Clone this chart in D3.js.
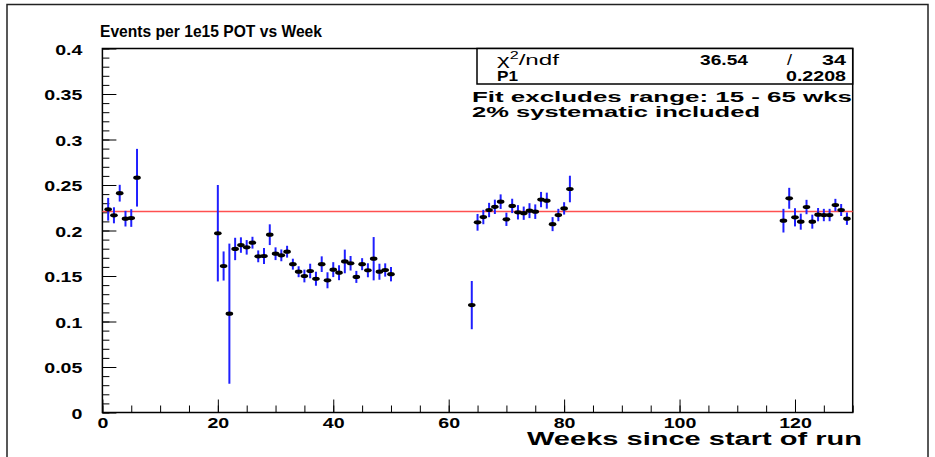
<!DOCTYPE html>
<html>
<head>
<meta charset="utf-8">
<script src="https://cdn.jsdelivr.net/npm/d3@7"></script>
<style>
  body { margin: 0; background: #fff; }
  text { font-family: "Liberation Sans", Arial, Helvetica, sans-serif; }
</style>
</head>
<body>
<svg id="chart" width="935" height="457"></svg>
<script>

// weeks since start of run
var weeks = [1, 2, 3, 4, 5, 6,
  20, 21, 22, 23, 24, 25, 26, 27, 28, 29, 30, 31, 32, 33, 34, 35, 36, 37, 38, 39, 40,
  41, 42, 43, 44, 45, 46, 47, 48, 49, 50,
  64, 65, 66, 67, 68, 69, 70, 71, 72, 73, 74, 75, 76, 77, 78, 79, 80, 81,
  118, 119, 120, 121, 122, 123, 124, 125, 126, 127, 128, 129];

// events per 1e15 POT
var rate = [0.2233, 0.2167, 0.2410, 0.2130, 0.2137, 0.2580,
  0.1970, 0.1610, 0.1086, 0.1797, 0.1840, 0.1815, 0.1866, 0.1716, 0.1720, 0.1954, 0.1745,
  0.1727, 0.1767, 0.1630, 0.1547, 0.1500, 0.1555, 0.1470, 0.1630, 0.1453, 0.1570,
  0.1536, 0.1660, 0.1640, 0.1490, 0.1630, 0.1563, 0.1690, 0.1547, 0.1566, 0.1520,
  0.1180, 0.2090, 0.2148, 0.2225, 0.2260, 0.2317, 0.2123, 0.2270, 0.2200, 0.2190,
  0.2218, 0.2207, 0.2340, 0.2328, 0.2070, 0.2170, 0.2243, 0.2456,
  0.2108, 0.2354, 0.2145, 0.2097, 0.2258, 0.2097, 0.2174, 0.2170, 0.2170, 0.2280,
  0.2225, 0.2130];

// error (half length of the bar)
var err = [0.0125, 0.0088, 0.0092, 0.0086, 0.0097, 0.0317,
  0.0530, 0.0160, 0.0770, 0.0123, 0.0085, 0.0080, 0.0065, 0.0065, 0.0088, 0.0114, 0.0070,
  0.0065, 0.0065, 0.0060, 0.0060, 0.0070, 0.0080, 0.0077, 0.0086, 0.0088, 0.0082,
  0.0082, 0.0130, 0.0080, 0.0066, 0.0066, 0.0077, 0.0238, 0.0088, 0.0073, 0.0079,
  0.0265, 0.0092, 0.0079, 0.0079, 0.0079, 0.0080, 0.0073, 0.0079, 0.0079, 0.0073,
  0.0082, 0.0080, 0.0084, 0.0088, 0.0077, 0.0068, 0.0068, 0.0146,
  0.0130, 0.0115, 0.0100, 0.0088, 0.0079, 0.0077, 0.0073, 0.0068, 0.0068, 0.0068,
  0.0066, 0.0068];

// fit result
var fitP1 = 0.2208;
var fitChi2 = "36.54";
var fitNdf = "34";
var fitP1Label = "0.2208";

// axis ticks
var xTicks = [0, 20, 40, 60, 80, 100, 120];
var xLabels = ["0", "20", "40", "60", "80", "100", "120"];
var yTicks = [0, 0.05, 0.1, 0.15, 0.2, 0.25, 0.3, 0.35, 0.4];
var yLabels = ["0", "0.05", "0.1", "0.15", "0.2", "0.25", "0.3", "0.35", "0.4"];

var titleText = "Events per 1e15 POT vs Week";
var xTitleText = "Weeks since start of run";
var noteLines = ["Fit excludes range: 15 - 65 wks", "2% systematic included"];


var svg = d3.select("#chart");

var padL = 102.4, padR = 852.7, padT = 48.5, padB = 412.5;

var x = d3.scaleLinear().domain([0, 130]).range([padL, padR]);
var y = d3.scaleLinear().domain([0, 0.4]).range([padB, padT]);

// outer pad border
svg.append("rect")
  .attr("x", 7).attr("y", 4.5)
  .attr("width", 921).attr("height", 470)
  .attr("fill", "none")
  .attr("stroke", "#222")
  .attr("stroke-width", 1.5);

// helper for stretched text
function addText(px, py, str, size, weight, width) {
  var t = svg.append("text")
    .attr("x", px).attr("y", py)
    .attr("font-size", size)
    .attr("font-weight", weight)
    .attr("fill", "#000")
    .text(str);
  if (width) {
    t.attr("textLength", width).attr("lengthAdjust", "spacingAndGlyphs");
  }
  return t;
}

// minor ticks
var yMinor = d3.axisLeft(y).tickValues(d3.range(0, 0.401, 0.01)).tickSize(-7).tickSizeOuter(0).tickFormat("");
svg.append("g").attr("transform", "translate(" + padL + ",0)").call(yMinor)
  .call(function (g) { g.select(".domain").remove(); })
  .selectAll("line").attr("stroke", "#000").attr("stroke-width", 1);

var xMinor = d3.axisBottom(x).tickValues(d3.range(0, 131, 5)).tickSize(-7).tickSizeOuter(0).tickFormat("");
svg.append("g").attr("transform", "translate(0," + padB + ")").call(xMinor)
  .call(function (g) { g.select(".domain").remove(); })
  .selectAll("line").attr("stroke", "#000").attr("stroke-width", 1);

// major ticks and labels
var sx = 1.4;
var yAxis = d3.axisLeft(y).tickValues(yTicks).tickSize(-14).tickSizeOuter(0)
  .tickPadding(20).tickFormat(function (d, i) { return yLabels[i]; });
var gy = svg.append("g").attr("transform", "translate(" + padL + ",0)").call(yAxis);
gy.select(".domain").remove();
gy.selectAll("line").attr("stroke", "#000").attr("stroke-width", 1);
gy.selectAll("text")
  .attr("x", -20 / sx)
  .attr("dy", "0.4em")
  .attr("transform", "scale(" + sx + ",1)")
  .attr("font-size", 14)
  .attr("font-weight", "bold")
  .attr("font-family", "Liberation Sans, Arial, sans-serif")
  .attr("fill", "#000");

var xAxis = d3.axisBottom(x).tickValues(xTicks).tickSize(-13).tickSizeOuter(0)
  .tickPadding(6).tickFormat(function (d, i) { return xLabels[i]; });
var gx = svg.append("g").attr("transform", "translate(0," + padB + ")").call(xAxis);
gx.select(".domain").remove();
gx.selectAll("line").attr("stroke", "#000").attr("stroke-width", 1);
gx.selectAll("text")
  .attr("transform", "scale(" + sx + ",1)")
  .attr("font-size", 14)
  .attr("font-weight", "bold")
  .attr("font-family", "Liberation Sans, Arial, sans-serif")
  .attr("fill", "#000");

// frame
svg.append("rect")
  .attr("x", padL).attr("y", padT)
  .attr("width", padR - padL).attr("height", padB - padT)
  .attr("fill", "none")
  .attr("stroke", "#000")
  .attr("stroke-width", 1.5);

// fit line
svg.append("line")
  .attr("x1", x(0)).attr("x2", x(130))
  .attr("y1", y(fitP1)).attr("y2", y(fitP1))
  .attr("stroke", "#ff5050")
  .attr("stroke-width", 1.5);

// error bars
var idx = d3.range(weeks.length);
svg.append("g").selectAll("line")
  .data(idx)
  .join("line")
  .attr("x1", function (i) { return x(weeks[i]); })
  .attr("x2", function (i) { return x(weeks[i]); })
  .attr("y1", function (i) { return y(rate[i] - err[i]); })
  .attr("y2", function (i) { return y(rate[i] + err[i]); })
  .attr("stroke", "#1f1fff")
  .attr("stroke-width", 2);

// markers
svg.append("g").selectAll("ellipse")
  .data(idx)
  .join("ellipse")
  .attr("cx", function (i) { return x(weeks[i]); })
  .attr("cy", function (i) { return y(rate[i]); })
  .attr("rx", 3.8)
  .attr("ry", 2.1)
  .attr("fill", "#000");

// title
addText(100, 37, titleText, 17, "bold", 222);

// x axis title
addText(527, 445, xTitleText, 18, "bold", 335);

// stats box
svg.append("rect")
  .attr("x", 477).attr("y", padT)
  .attr("width", padR - 477).attr("height", 84 - padT)
  .attr("fill", "#fff")
  .attr("stroke", "#000")
  .attr("stroke-width", 1.5);

var chi = svg.append("text")
  .attr("x", 497).attr("y", 65)
  .attr("font-size", 15)
  .attr("font-weight", "normal")
  .attr("textLength", 62).attr("lengthAdjust", "spacingAndGlyphs");
chi.append("tspan").text("\u03c7");
chi.append("tspan").attr("font-size", 10).attr("dy", -6).text("2");
chi.append("tspan").attr("dy", 6).text("/ndf");

addText(700, 65, fitChi2, 14, "bold", 48);
addText(787, 65, "/", 14, "normal", 5);
addText(822, 65, fitNdf, 14, "bold", 24);
addText(497, 81, "P1", 14, "bold", 21);
addText(786, 81, fitP1Label, 14, "bold", 60);

// note text
addText(472, 102, noteLines[0], 15, "bold", 380);
addText(472, 117, noteLines[1], 15, "bold", 288);

</script>
</body>
</html>
